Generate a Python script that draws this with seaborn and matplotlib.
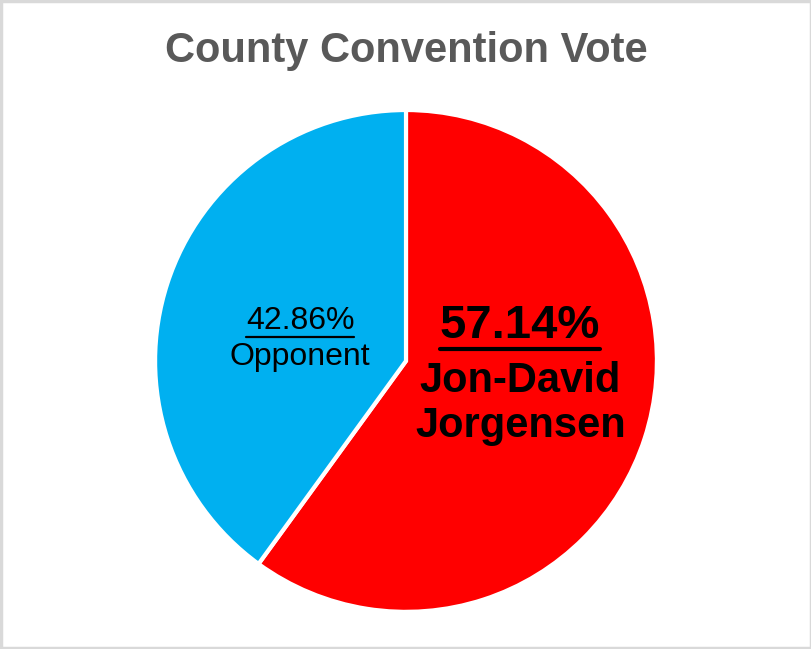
import matplotlib
matplotlib.use("Agg")
import matplotlib.pyplot as plt
import seaborn as sns
from matplotlib.lines import Line2D
from matplotlib.patches import Rectangle

# data (wedges as drawn, labels as printed)
candidates = ["Jon-David\nJorgensen", "Opponent"]
wedge_sizes = [60, 40]
label_pcts = [57.14, 42.86]
colors = ["#FF0000", "#00B0F0"]
title = "County Convention Vote"


def underline(fig, txt, renderer, offset_px, lw):
    bb = txt.get_window_extent(renderer=renderer)
    W, H = fig.bbox.width, fig.bbox.height
    y = (bb.y0 - offset_px) / H
    fig.add_artist(Line2D([bb.x0 / W, bb.x1 / W], [y, y], color="black",
                          linewidth=lw, transform=fig.transFigure))


def main() -> None:
    sns.set_theme(style="white")
    plt.rcParams["font.family"] = ["Liberation Sans", "DejaVu Sans"]

    fig = plt.figure(figsize=(8.12, 6.49), dpi=100)
    fig.patch.set_facecolor("white")
    fig.add_artist(Rectangle((0.001, 0.0015), 0.998, 0.997, transform=fig.transFigure,
                             fill=False, edgecolor="#D9D9D9", linewidth=2.5))

    ax = fig.add_axes([0.191, 0.0571, 0.618, 0.7735])
    ax.pie(wedge_sizes, colors=colors, startangle=90, counterclock=False,
           wedgeprops=dict(edgecolor="white", linewidth=3))
    ax.set_xlim(-1, 1)
    ax.set_ylim(-1, 1)
    ax.set_aspect("equal")
    ax.axis("off")

    fig.text(0.5, 0.922, title, ha="center", va="center", fontsize=30,
             fontweight="bold", color="#595959")

    # winner label
    p1 = ax.text(0.454, 0.139, f"{label_pcts[0]:.2f}%", ha="center", va="center",
                 fontsize=34, fontweight="bold", color="black")
    ax.text(0.456, -0.17, candidates[0], ha="center", va="center", fontsize=30,
            fontweight="bold", color="black", linespacing=1.17)

    # opponent label
    p2 = ax.text(-0.422, 0.159, f"{label_pcts[1]:.2f}%", ha="center", va="center",
                 fontsize=23, color="black")
    ax.text(-0.422, 0.016, candidates[1], ha="center", va="center", fontsize=23,
            color="black")

    fig.canvas.draw()
    r = fig.canvas.get_renderer()
    underline(fig, p1, r, 1, 3.0)
    underline(fig, p2, r, 1, 1.6)

    fig.savefig("out.png", dpi=100)
    plt.close(fig)


if __name__ == "__main__":
    main()
